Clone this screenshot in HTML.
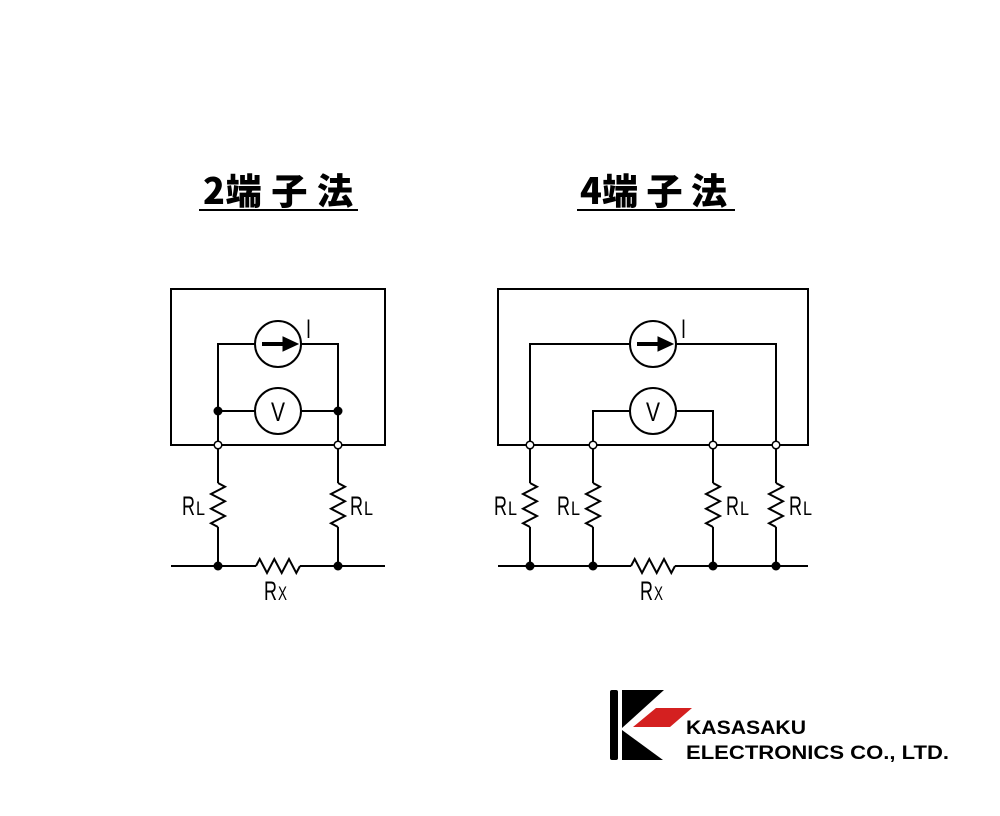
<!DOCTYPE html>
<html><head><meta charset="utf-8"><style>
html,body{margin:0;padding:0;background:#fff;}
svg{display:block;}
.t{font-family:"Noto Sans CJK JP","Liberation Sans",sans-serif;font-weight:900;font-size:36px;fill:#000;}
.l{font-family:"Liberation Sans",sans-serif;font-size:27px;fill:#000;}
.s{font-family:"Liberation Sans",sans-serif;font-size:19px;fill:#000;}
.k{font-family:"Liberation Sans","DejaVu Sans",sans-serif;font-weight:bold;font-size:19px;fill:#000;}
</style></head><body>
<svg width="1000" height="816" viewBox="0 0 1000 816" xmlns="http://www.w3.org/2000/svg">
<defs>
<g id="rv"><path d="M0,-22 L7,-18.3 L-7,-11 L7,-3.7 L-7,3.7 L7,11 L-7,18.3 L0,22" fill="none" stroke="#000" stroke-width="2"/></g>
<g id="rh"><path d="M-22,0 L-18.3,-7 L-11,7 L-3.7,-7 L3.7,7 L11,-7 L18.3,7 L22,0" fill="none" stroke="#000" stroke-width="2"/></g>
</defs>
<text class="t" x="203" y="204" textLength="150" lengthAdjust="spacing">2端 子 法</text>
<line x1="199" y1="210" x2="358" y2="210" stroke="#000" stroke-width="2"/>
<text class="t" x="580" y="204" textLength="147" lengthAdjust="spacing">4端 子 法</text>
<line x1="577" y1="210" x2="735" y2="210" stroke="#000" stroke-width="2"/>

<g stroke="#000" stroke-width="2" fill="none">
<rect x="171" y="289" width="214" height="156"/>
<polyline points="218,566 218,527"/><polyline points="218,483 218,344 255,344"/>
<polyline points="301,344 338,344 338,483"/><polyline points="338,527 338,566"/>
<line x1="218" y1="411" x2="255" y2="411"/><line x1="301" y1="411" x2="338" y2="411"/>
<circle cx="278" cy="344" r="23"/><circle cx="278" cy="411" r="23"/>
<line x1="171" y1="566" x2="256" y2="566"/><line x1="300" y1="566" x2="385" y2="566"/>
<rect x="498" y="289" width="310" height="156"/>
<polyline points="530,483 530,344 630,344"/><polyline points="676,344 776,344 776,483"/>
<polyline points="593,483 593,411 630,411"/><polyline points="676,411 713,411 713,483"/>
<line x1="530" y1="527" x2="530" y2="566"/><line x1="593" y1="527" x2="593" y2="566"/>
<line x1="713" y1="527" x2="713" y2="566"/><line x1="776" y1="527" x2="776" y2="566"/>
<circle cx="653" cy="344" r="23"/><circle cx="653" cy="411" r="23"/>
<line x1="498" y1="566" x2="631" y2="566"/><line x1="675" y1="566" x2="808" y2="566"/>
</g>
<use href="#rv" x="218" y="505"/><use href="#rv" x="338" y="505"/><use href="#rh" x="278" y="566"/>
<use href="#rv" x="530" y="505"/><use href="#rv" x="593" y="505"/><use href="#rv" x="713" y="505"/><use href="#rv" x="776" y="505"/><use href="#rh" x="653" y="566"/>
<g fill="#000" stroke="#000">
<line x1="262" y1="344" x2="285" y2="344" stroke-width="4"/><polygon points="283,337 298,344 283,351"/>
<line x1="637" y1="344" x2="660" y2="344" stroke-width="4"/><polygon points="658,337 673,344 658,351"/>
</g>
<g fill="#000">
<circle cx="218" cy="411" r="4.5"/><circle cx="338" cy="411" r="4.5"/>
<circle cx="218" cy="566" r="4.5"/><circle cx="338" cy="566" r="4.5"/>
<circle cx="530" cy="566" r="4.5"/><circle cx="593" cy="566" r="4.5"/><circle cx="713" cy="566" r="4.5"/><circle cx="776" cy="566" r="4.5"/>
</g>
<g fill="#fff" stroke="#000" stroke-width="1.5">
<circle cx="218" cy="445" r="3.8"/><circle cx="338" cy="445" r="3.8"/>
<circle cx="530" cy="445" r="3.8"/><circle cx="593" cy="445" r="3.8"/><circle cx="713" cy="445" r="3.8"/><circle cx="776" cy="445" r="3.8"/>
</g>
<g>
<text class="l" x="271" y="421" textLength="14" lengthAdjust="spacingAndGlyphs">V</text>
<text class="l" x="646" y="421" textLength="14" lengthAdjust="spacingAndGlyphs">V</text>
<text class="l" x="306" y="338" textLength="5" lengthAdjust="spacingAndGlyphs">I</text>
<text class="l" x="681" y="338" textLength="5" lengthAdjust="spacingAndGlyphs">I</text>
<text class="l" x="182" y="515" textLength="13" lengthAdjust="spacingAndGlyphs">R</text><text class="s" x="196" y="515" textLength="9" lengthAdjust="spacingAndGlyphs">L</text>
<text class="l" x="350" y="515" textLength="13" lengthAdjust="spacingAndGlyphs">R</text><text class="s" x="364" y="515" textLength="9" lengthAdjust="spacingAndGlyphs">L</text>
<text class="l" x="264" y="600" textLength="13" lengthAdjust="spacingAndGlyphs">R</text><text class="s" x="278" y="600" textLength="9" lengthAdjust="spacingAndGlyphs">X</text>
<text class="l" x="494" y="515" textLength="13" lengthAdjust="spacingAndGlyphs">R</text><text class="s" x="508" y="515" textLength="9" lengthAdjust="spacingAndGlyphs">L</text>
<text class="l" x="557" y="515" textLength="13" lengthAdjust="spacingAndGlyphs">R</text><text class="s" x="571" y="515" textLength="9" lengthAdjust="spacingAndGlyphs">L</text>
<text class="l" x="726" y="515" textLength="13" lengthAdjust="spacingAndGlyphs">R</text><text class="s" x="740" y="515" textLength="9" lengthAdjust="spacingAndGlyphs">L</text>
<text class="l" x="789" y="515" textLength="13" lengthAdjust="spacingAndGlyphs">R</text><text class="s" x="803" y="515" textLength="9" lengthAdjust="spacingAndGlyphs">L</text>
<text class="l" x="640" y="600" textLength="13" lengthAdjust="spacingAndGlyphs">R</text><text class="s" x="654" y="600" textLength="9" lengthAdjust="spacingAndGlyphs">X</text>
</g>
<rect x="610" y="690" width="8" height="70" rx="2" fill="#000"/>
<polygon points="622,690 664,690 622,728" fill="#000"/>
<polygon points="622,730 622,760 663,760" fill="#000"/>
<polygon points="633,727 656,708 692,708 670,727" fill="#d42020"/>
<text class="k" x="686" y="734" textLength="120" lengthAdjust="spacingAndGlyphs">KASASAKU</text>
<text class="k" x="686" y="759" textLength="263" lengthAdjust="spacingAndGlyphs">ELECTRONICS CO., LTD.</text>
</svg>
</body></html>
